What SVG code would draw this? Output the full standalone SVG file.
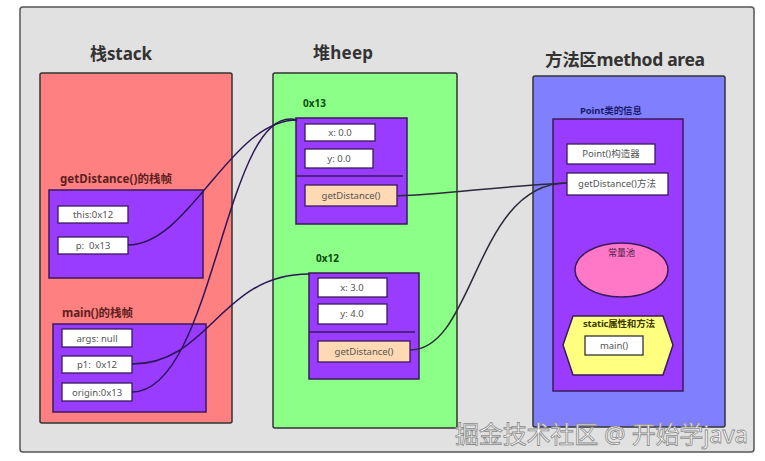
<svg xmlns="http://www.w3.org/2000/svg" width="765" height="461" viewBox="0 0 765 461">
<style>
.t{font-family:"Noto Sans","Noto Sans CJK SC",sans-serif}
.title{font-size:17px;font-weight:bold;fill:#333}
.sub{font-size:11.5px;font-weight:bold}
.cell{fill:#fff;stroke:#3a1a5a;stroke-width:1.3}
.meth{fill:#ffd9b3;stroke:#3a1a5a;stroke-width:1.3}
.ct{font-size:9.5px;fill:#555;text-anchor:middle}
.frame{fill:#9a3cff;stroke:#3a1a5a;stroke-width:1.5}
.area{stroke:#333;stroke-width:1.5}
.line{fill:none;stroke-width:1.5}
</style>
<rect x="20" y="7" width="734" height="445" rx="3" fill="#e1e1e1" stroke="#555" stroke-width="1.5"/>

<g id="stack">
<text class="t title" x="90" y="60" textLength="62">栈stack</text>
<rect class="area" x="40" y="73" width="192" height="350" rx="2" fill="#ff8080"/>
</g>
<g id="getDistanceFrame">
<text class="t sub" x="60" y="183" fill="#5c1f1f" textLength="112">getDistance()的栈帧</text>
<rect class="frame" x="49" y="190" width="154" height="88"/>
<rect class="cell" x="58" y="206" width="70" height="17"/>
<text class="t ct" x="93" y="218">this:0x12</text>
<rect class="cell" x="58" y="237" width="70" height="17"/>
<text class="t ct" x="93" y="249">p:&#160; 0x13</text>
</g>
<g id="mainFrame">
<text class="t sub" x="62" y="317" fill="#5c1f1f" textLength="71">main()的栈帧</text>
<rect class="frame" x="53" y="324" width="153" height="88"/>
<rect class="cell" x="62" y="329" width="70" height="18"/>
<text class="t ct" x="97" y="342">args: null</text>
<rect class="cell" x="62" y="356" width="70" height="17"/>
<text class="t ct" x="97" y="368">p1:&#160; 0x12</text>
<rect class="cell" x="62" y="383" width="70" height="18"/>
<text class="t ct" x="97" y="396">origin:0x13</text>
</g>

<g id="heap">
<text class="t title" x="313" y="59" textLength="60">堆heep</text>
<rect class="area" x="273" y="73" width="184" height="355" rx="2" fill="#8cff88"/>
</g>
<g id="obj0x13">
<text class="t" x="303" y="107" font-size="10" font-weight="bold" fill="#0a4a0a">0x13</text>
<rect class="frame" x="296" y="118" width="111" height="106"/>
<rect class="cell" x="305" y="124" width="70" height="17"/>
<text class="t ct" x="340" y="136">x: 0.0</text>
<rect class="cell" x="305" y="149" width="68" height="19"/>
<text class="t ct" x="339" y="162">y: 0.0</text>
<line x1="296" y1="176" x2="403" y2="176" stroke="#3a1a5a" stroke-width="1.3"/>
<rect class="meth" x="305" y="185" width="92" height="21"/>
<text class="t ct" x="351" y="199">getDistance()</text>
</g>
<g id="obj0x12">
<text class="t" x="316" y="262" font-size="10" font-weight="bold" fill="#0a4a0a">0x12</text>
<rect class="frame" x="309" y="273" width="110" height="106"/>
<rect class="cell" x="318" y="278" width="69" height="19"/>
<text class="t ct" x="352" y="291">x: 3.0</text>
<rect class="cell" x="318" y="304" width="69" height="20"/>
<text class="t ct" x="352" y="317">y: 4.0</text>
<line x1="309" y1="332" x2="415" y2="332" stroke="#3a1a5a" stroke-width="1.3"/>
<rect class="meth" x="318" y="341" width="92" height="21"/>
<text class="t ct" x="364" y="355">getDistance()</text>
</g>

<g id="methodArea">
<text class="t" x="545" y="66" font-size="17.5" font-weight="bold" fill="#333" textLength="160">方法区method area</text>
<rect class="area" x="533" y="76" width="192" height="351" rx="2" fill="#8080ff"/>
</g>
<g id="pointClass">
<text class="t" x="580" y="114" font-size="9.5" font-weight="bold" fill="#1a1a6a" textLength="62">Point类的信息</text>
<rect class="frame" x="553" y="119" width="130" height="272"/>
<rect class="cell" x="567" y="144" width="88" height="20"/>
<text class="t ct" x="611" y="157">Point()构造器</text>
<rect class="cell" x="567" y="173" width="101" height="22"/>
<text class="t ct" x="617" y="187">getDistance()方法</text>
</g>
<g id="constPool">
<ellipse cx="621.5" cy="270" rx="46.5" ry="27" fill="#ff78c8" stroke="#3a1a5a" stroke-width="1.5"/>
<text class="t" x="621.5" y="256" font-size="9" fill="#4a1a4a" text-anchor="middle">常量池</text>
</g>
<g id="staticMembers">
<polygon points="563,345 573,316 663,316 673,345 663,375 573,375" fill="#ffff80" stroke="#3a1a5a" stroke-width="1.5"/>
<text class="t" x="619" y="327" font-size="9.5" font-weight="bold" fill="#3a3a00" text-anchor="middle" textLength="72">static属性和方法</text>
<rect x="585" y="336" width="58" height="19" fill="#fff" stroke="#333" stroke-width="1.3"/>
<text class="t ct" x="614" y="349">main()</text>
</g>

<g id="connectors">
<path class="line" stroke="#2b1656" d="M128,245 C190,245 230,120 297,120"/>
<path class="line" stroke="#2b1656" d="M132,392 C215,392 225,100 297,120"/>
<path class="line" stroke="#2b1656" d="M132,364 C210,364 220,274 309,274"/>
<path class="line" stroke="#2a2a3a" d="M397,196 C450,194 500,186 567,183"/>
<path class="line" stroke="#2a2a3a" d="M410,350 C475,350 475,183 567,183"/>
</g>

<text class="t" x="455" y="443" font-size="24" fill="#fff" stroke="#8a8a8a" stroke-width="0.8" textLength="293" font-family="Noto Sans CJK SC,sans-serif">掘金技术社区 @ 开始学java</text>
</svg>
